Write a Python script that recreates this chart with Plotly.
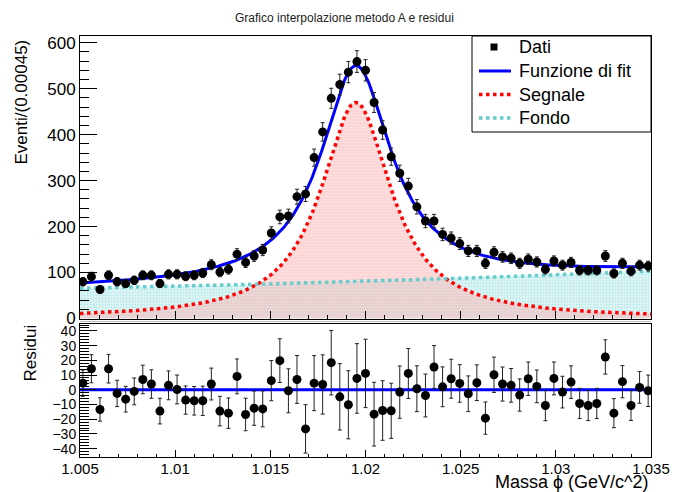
import numpy as np
import plotly.graph_objects as go

# ---------------- data ----------------
BIN_START = 1.00515      # centre of first bin
BIN_WIDTH = 0.00045
counts = [80, 91, 63, 94, 80, 76, 83, 94, 94, 76,
          96, 96, 92, 94, 99, 117, 101, 107, 140, 122,
          136, 149, 186, 221, 223, 265, 271, 350, 406, 479,
          509, 536, 559, 540, 470, 410, 352, 316, 288, 243,
          212, 212, 183, 175, 163, 147, 147, 120, 144, 134,
          131, 120, 129, 123, 107, 125, 116, 122, 105, 105,
          105, 136, 98, 120, 103, 116, 114]
residuals = [4.5, 14.3, -13.4, 14.3, -2.5, -6.4, -1.1, 7.0, 3.9, -14.5,
             3.0, 0.2, -7.0, -7.5, -7.5, 3.9, -14.5, -15.9, 9.1, -16.8,
             -12.5, -13.0, 6.2, 19.8, -0.7, 7.0, -26.6, 4.5, 3.6, 18.4,
             -4.8, -10.2, 7.7, 11.1, -16.6, -14.1, -14.3, -1.6, 11.1, 0.7,
             -3.9, 15.5, 2.0, 7.5, 4.3, -2.7, 4.8, -19.3, 10.2, 3.9,
             3.0, -3.6, 7.5, 2.3, -10.7, 7.7, -1.6, 5.2, -9.3, -10.7,
             -9.3, 22.3, -15.9, 5.5, -10.7, 1.6, -0.7]

# fit model parameters
PHI_MASS = 1.0195
PHI_FWHM = 0.0045
SIG_PEAK = 470.0
BKG_X = [1.005, 1.020, 1.035]
BKG_Y = [66.0, 81.0, 103.0]

X_MIN, X_MAX = 1.005, 1.035
Y_TOP_RANGE = [0, 614.6]
Y_RES_RANGE = [-45.7, 44.7]

legend_labels = ["Dati", "Funzione di fit", "Segnale", "Fondo"]

# ---------------- derived ----------------
counts = np.array(counts, dtype=float)
residuals = np.array(residuals, dtype=float)
xbins = BIN_START + BIN_WIDTH * np.arange(len(counts))
errs = np.sqrt(counts)

xc = np.linspace(X_MIN, X_MAX, 500)
g = PHI_FWHM / 2.0
signal = SIG_PEAK / (1.0 + ((xc - PHI_MASS) / g) ** 2)
bkg_coef = np.polyfit(np.array(BKG_X) - 1.02, BKG_Y, 2)
background = np.polyval(bkg_coef, xc - 1.02)
total = signal + background

FONT = "Liberation Sans, Arial, Helvetica, sans-serif"
BLUE, RED, CYAN = "#0000ff", "#ff0000", "#66cccc"

# page geometry (pixels) -> paper coordinates
W, H = 682, 492
ML, MR, MT, MB = 80, 31, 36, 35
PW, PH = W - ML - MR, H - MT - MB


def px(xp):
    return (xp - ML) / PW


def py(yp):
    return (H - MB - yp) / PH


fig = go.Figure()

# background fill
fig.add_trace(go.Scatter(
    x=xc, y=background, mode="lines", line=dict(width=0), fill="tozeroy",
    fillcolor="rgba(150,220,220,0.45)",
    fillpattern=dict(shape=".", bgcolor="rgba(175,230,230,0.42)",
                     fgcolor="rgba(90,200,200,0.55)", size=3, solidity=0.35),
    showlegend=False, hoverinfo="skip", xaxis="x", yaxis="y"))
# signal fill
fig.add_trace(go.Scatter(
    x=xc, y=signal, mode="lines", line=dict(width=0), fill="tozeroy",
    fillcolor="rgba(245,170,170,0.5)",
    fillpattern=dict(shape="-", bgcolor="rgba(245,170,170,0.5)",
                     fgcolor="rgba(255,240,240,0.7)", size=3, solidity=0.4),
    showlegend=False, hoverinfo="skip", xaxis="x", yaxis="y"))

# fit lines
fig.add_trace(go.Scatter(
    x=xc, y=total, mode="lines", name=legend_labels[1], showlegend=False,
    line=dict(color=BLUE, width=3), xaxis="x", yaxis="y"))
fig.add_trace(go.Scatter(
    x=xc, y=signal, mode="lines", name=legend_labels[2], showlegend=False,
    line=dict(color=RED, width=3.5, dash="dot"), xaxis="x", yaxis="y"))
fig.add_trace(go.Scatter(
    x=xc, y=background, mode="lines", name=legend_labels[3], showlegend=False,
    line=dict(color=CYAN, width=3.5, dash="dot"), xaxis="x", yaxis="y"))

# data points
fig.add_trace(go.Scatter(
    x=xbins, y=counts, mode="markers", name=legend_labels[0], showlegend=False,
    marker=dict(symbol="circle", size=9, color="black"),
    error_y=dict(type="data", array=errs, color="#222222", thickness=1, width=2),
    xaxis="x", yaxis="y"))

# residual panel
fig.add_trace(go.Scatter(
    x=[X_MIN, X_MAX], y=[0, 0], mode="lines", showlegend=False,
    line=dict(color=BLUE, width=3), xaxis="x2", yaxis="y2"))
fig.add_trace(go.Scatter(
    x=xbins, y=residuals, mode="markers", showlegend=False,
    marker=dict(symbol="circle", size=9, color="black"),
    error_y=dict(type="data", array=errs, color="#222222", thickness=1, width=2),
    xaxis="x2", yaxis="y2"))

common_axis = dict(showgrid=False, zeroline=False, showline=True, mirror=True,
                   linecolor="black", linewidth=1, ticks="inside",
                   tickcolor="black", tickwidth=1)

# ---------------- legend box (ROOT style) ----------------
LEG_X0, LEG_X1, LEG_Y0, LEG_Y1 = 472, 651, 36, 132
leg_rows = [47, 71, 94.5, 118]
sym_x0, sym_x1, txt_x = 479, 511, 517

shapes = [
    dict(type="line", xref="paper", yref="paper", x0=0, x1=1,
         y0=py(321.5), y1=py(321.5), line=dict(color="#bbbbbb", width=1)),
    dict(type="rect", xref="paper", yref="paper", x0=px(LEG_X0), x1=px(LEG_X1),
         y0=py(LEG_Y1), y1=py(LEG_Y0), fillcolor="white",
         line=dict(color="black", width=1), layer="above"),
    dict(type="rect", xref="paper", yref="paper",
         x0=px(494 - 3.5), x1=px(494 + 3.5),
         y0=py(leg_rows[0] + 3.5), y1=py(leg_rows[0] - 3.5),
         fillcolor="black", line=dict(width=0), layer="above"),
]
for row, col, dash in zip(leg_rows[1:], [BLUE, RED, CYAN],
                          ["solid", "dot", "dot"]):
    shapes.append(dict(type="line", xref="paper", yref="paper",
                       x0=px(sym_x0), x1=px(sym_x1), y0=py(row), y1=py(row),
                       line=dict(color=col, width=3.5 if dash == "dot" else 3,
                                 dash=dash), layer="above"))

annotations = [
    dict(text="Eventi/(0.00045)", textangle=-90, xref="paper", yref="paper",
         x=px(21), y=py(38), xanchor="center", yanchor="top",
         showarrow=False, font=dict(size=17, family=FONT)),
    dict(text="Residui", textangle=-90, xref="paper", yref="paper",
         x=px(30), y=py(323), xanchor="center", yanchor="top",
         showarrow=False, font=dict(size=17, family=FONT)),
    dict(text="Massa ϕ (GeV/c^2)", xref="paper", yref="paper",
         x=1, y=py(482), xanchor="right", yanchor="middle",
         showarrow=False, font=dict(size=18, family=FONT)),
]
for row, lab in zip(leg_rows, legend_labels):
    annotations.append(dict(text=lab, xref="paper", yref="paper",
                            x=px(txt_x), y=py(row), xanchor="left",
                            yanchor="middle", showarrow=False,
                            font=dict(size=18, family=FONT)))

fig.update_layout(
    width=W, height=H,
    margin=dict(l=ML, r=MR, t=MT, b=MB),
    paper_bgcolor="white", plot_bgcolor="white",
    font=dict(family=FONT, color="black"),
    showlegend=False,
    title=dict(text="Grafico interpolazione metodo A e residui",
               x=0.505, xanchor="center", y=1 - 18 / H, yanchor="middle",
               font=dict(size=12, color="#222222", family=FONT)),
    xaxis=dict(domain=[0, 1], anchor="y", range=[X_MIN, X_MAX],
               showticklabels=False, tick0=1.005, dtick=0.005, ticklen=8,
               minor=dict(dtick=0.001, ticks="inside", ticklen=4,
                          tickcolor="black", showgrid=False),
               **common_axis),
    yaxis=dict(domain=[py(318.5), 1], anchor="x", range=Y_TOP_RANGE,
               dtick=100, ticklen=17, tickfont=dict(size=17),
               minor=dict(dtick=20, ticks="inside", ticklen=9,
                          tickcolor="black", showgrid=False),
               **common_axis),
    xaxis2=dict(domain=[0, 1], anchor="y2", range=[X_MIN, X_MAX],
                tick0=1.005, dtick=0.005, ticklen=7, tickfont=dict(size=15),
                ticklabelstandoff=-2,
                minor=dict(dtick=0.001, ticks="inside", ticklen=3,
                           tickcolor="black", showgrid=False),
                **common_axis),
    yaxis2=dict(domain=[0, py(324)], anchor="x2", range=Y_RES_RANGE,
                dtick=10, ticklen=17, tickfont=dict(size=14),
                minor=dict(dtick=2, ticks="inside", ticklen=9,
                           tickcolor="black", showgrid=False),
                **common_axis),
    annotations=annotations,
    shapes=shapes,
)

fig.write_html("out.html")
